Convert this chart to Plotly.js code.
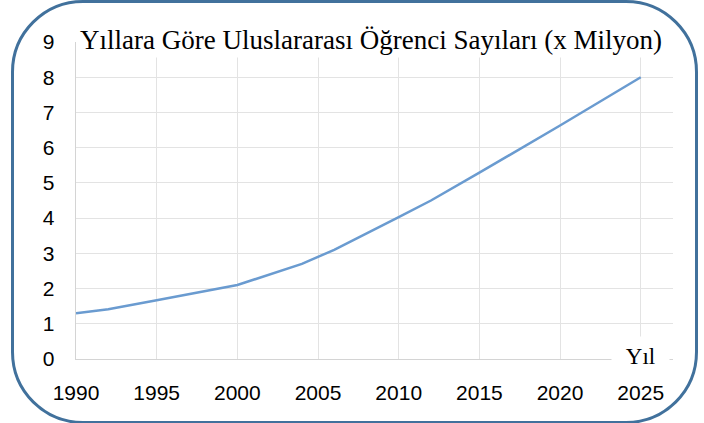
<!DOCTYPE html>
<html>
<head>
<meta charset="utf-8">
<script src="https://cdn.plot.ly/plotly-3.0.1.min.js"></script>
<style>
html,body{margin:0;padding:0;background:#fff;}
#wrap{position:relative;width:704px;height:423px;}
#chart{position:absolute;left:0;top:0;width:704px;height:423px;}
#frame{position:absolute;left:11px;top:0px;width:681px;height:418px;border:3px solid #41719c;border-radius:72px;pointer-events:none;}
</style>
</head>
<body>
<div id="wrap"><div id="chart"></div><div id="frame"></div></div>
<script>
const years = [1990, 1992, 1995, 2000, 2004, 2006, 2010, 2012, 2015, 2017, 2020, 2025];
const students = [1.30, 1.41, 1.67, 2.10, 2.70, 3.10, 4.03, 4.50, 5.29, 5.82, 6.63, 8.00];
const xTicks = [1990, 1995, 2000, 2005, 2010, 2015, 2020, 2025];
const yTicks = [0, 1, 2, 3, 4, 5, 6, 7, 8, 9];
const titleText = 'Yıllara Göre Uluslararası Öğrenci Sayıları (x Milyon)';
const xLabel = 'Yıl';

const tickFont = {family: 'Liberation Sans', size: 21, color: '#000'};
const serif = 'Liberation Serif';

Plotly.newPlot('chart', [{
  x: years, y: students, type: 'scatter', mode: 'lines',
  line: {color: '#6a9bd0', width: 2.5}, hoverinfo: 'skip'
}], {
  width: 704, height: 423,
  margin: {l: 76, r: 31, t: 42, b: 64},
  paper_bgcolor: '#fff', plot_bgcolor: '#fff',
  showlegend: false,
  xaxis: {
    range: [1990, 2027], tickvals: xTicks, ticktext: xTicks.map(String),
    showgrid: true, gridcolor: '#e3e3e3', gridwidth: 1,
    showline: true, linecolor: '#d4d4d4', linewidth: 1.3,
    zeroline: false, ticks: '', tickfont: tickFont, ticklabelstandoff: 14
  },
  yaxis: {
    range: [0, 9], tickvals: yTicks, ticktext: yTicks.map(String),
    showgrid: true, gridcolor: '#e3e3e3', gridwidth: 1,
    showline: true, linecolor: '#d4d4d4', linewidth: 1.3,
    zeroline: false, ticks: '', tickfont: tickFont, ticklabelstandoff: 16
  },
  annotations: [
    {text: titleText, xref: 'paper', yref: 'paper', x: 0.494, y: 1.006, xanchor: 'center', yanchor: 'middle',
     showarrow: false, font: {family: serif, size: 27, color: '#000'}, bgcolor: '#fff', width: 584, height: 32},
    {text: xLabel, xref: 'paper', yref: 'paper', x: 0.9456, y: 0.01, xanchor: 'center', yanchor: 'middle',
     showarrow: false, font: {family: serif, size: 23, color: '#000'}, bgcolor: '#fff', width: 55, height: 36}
  ]
}, {staticPlot: true, displayModeBar: false});
</script>
</body>
</html>
